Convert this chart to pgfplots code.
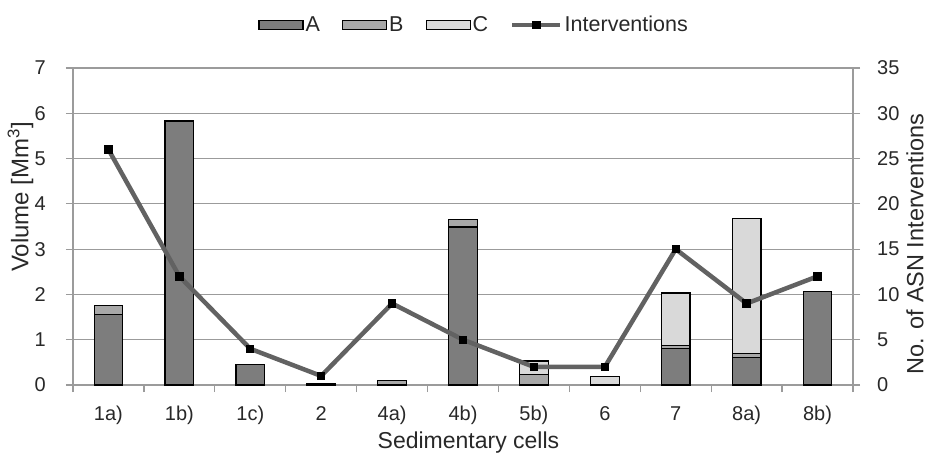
\documentclass[border=0pt]{standalone}
\usepackage{pgfplots}
\pgfplotsset{compat=1.18}
\usepackage{fontspec}
\setmainfont{Liberation Sans}
\definecolor{cA}{RGB}{125,125,125}
\definecolor{cB}{RGB}{168,168,168}
\definecolor{cC}{RGB}{217,217,217}
\definecolor{cL}{RGB}{98,98,98}
\definecolor{cG}{RGB}{155,155,155}
\definecolor{cT}{RGB}{40,40,40}
\pgfplotsset{
  common/.style={
    at={(0pt,0pt)}, anchor=south west,
    scale only axis, width=780pt, height=317pt,
    xmin=-0.5, xmax=10.5,
    tick align=outside, major tick length=7pt,
    tick style={draw=cG, line width=1.2pt},
    axis line style={draw=cG, line width=1.2pt},
    ticklabel style={font=\fontsize{20}{24}\selectfont, text=cT},
    /pgf/number format/assume math mode=true,
  },
  barA/.style={ybar, bar shift=0pt, bar width=28.7pt, fill=cA, draw=black, line width=1.2pt},
  barB/.style={ybar, bar shift=0pt, bar width=28.7pt, fill=cB, draw=black, line width=1.2pt},
  barC/.style={ybar, bar shift=0pt, bar width=28.7pt, fill=cC, draw=black, line width=1.2pt},
  lineleg/.style={legend image code/.code={%
    \draw[##1, mark=none] (0pt,0pt) -- (48pt,0pt);
    \draw[##1] plot coordinates {(24pt,0pt)};}},
  patchA/.style={legend image code/.code={\draw[fill=cA,draw=black,line width=1.2pt] (0pt,-4.5pt) rectangle (44pt,4.5pt);}},
  patchB/.style={legend image code/.code={\draw[fill=cB,draw=black,line width=1.2pt] (0pt,-4.5pt) rectangle (44pt,4.5pt);}},
  patchC/.style={legend image code/.code={\draw[fill=cC,draw=black,line width=1.2pt] (0pt,-4.5pt) rectangle (44pt,4.5pt);}},
}
\begin{document}
\begin{tikzpicture}
\useasboundingbox (-73pt,-68pt) rectangle (857pt,385pt);
\begin{axis}[
  common,
  ymin=0, ymax=7,
  xtick={-0.5,0.5,...,10.5}, xticklabels={},
  extra x ticks={0,1,...,10},
  extra x tick labels={1a),1b),1c),2,4a),4b),5b),6,7,8a),8b)},
  extra x tick style={major tick length=0pt},
  ytick={0,1,...,7},
  xtick pos=bottom, ytick pos=left,
  ymajorgrids, major grid style={draw=cG, line width=1.2pt},
  xticklabel style={anchor=base, yshift=-35pt, inner sep=0pt},
  yticklabel style={anchor=east, xshift=-20pt, inner sep=0pt},
  ylabel={Volume [Mm\textsuperscript{3}]},
  ylabel style={at={(axis description cs:0,0.593)}, anchor=center, yshift=52.5pt, font=\fontsize{24}{28}\selectfont, text=cT},
  xlabel={Sedimentary cells},
  xlabel style={at={(axis description cs:0.507,0)}, anchor=base, yshift=-63.5pt, font=\fontsize{23}{27}\selectfont, text=cT},
]
% layer C: top of C (total), where C > 0
\addplot[barC] coordinates {(6,0.53) (7,0.18) (8,2.03) (9,3.67)};
% layer B: top of B, where B > 0
\addplot[barB] coordinates {(0,1.75) (4,0.10) (5,3.65) (6,0.24) (8,0.87) (9,0.69)};
% layer A
\addplot[barA] coordinates {(0,1.56) (1,5.83) (2,0.46) (3,0.04) (5,3.49) (8,0.80) (9,0.61) (10,2.07)};
\end{axis}
\begin{axis}[
  common,
  ymin=0, ymax=35,
  axis x line=none, axis y line*=right,
  ytick={0,5,...,35},
  yticklabel style={anchor=west, xshift=17pt, inner sep=0pt},
  ylabel={No. of ASN Interventions},
  ylabel style={at={(axis description cs:1,0.445)}, anchor=center, yshift=-62pt, font=\fontsize{23.5}{28}\selectfont, text=cT},
  legend columns=4,
  legend style={at={(axis description cs:0.513,1.136)}, anchor=center, draw=none, fill=none,
    font=\fontsize{21.5}{25}\selectfont, text=cT,
    column sep=2pt,
    /tikz/every even column/.append style={column sep=22pt},
    cells={anchor=west}, nodes={inner sep=0pt}},
]
\addlegendimage{patchA}
\addlegendentry{A}
\addlegendimage{patchB}
\addlegendentry{B}
\addlegendimage{patchC}
\addlegendentry{C}
\addplot[cL, line width=4.5pt, mark=square*, mark size=3.7pt,
  mark options={fill=black, draw=black, line width=0pt}, lineleg]
  coordinates {(0,26) (1,12) (2,4) (3,1) (4,9) (5,5) (6,2) (7,2) (8,15) (9,9) (10,12)};
\addlegendentry{Interventions}
\end{axis}
\end{tikzpicture}
\end{document}
